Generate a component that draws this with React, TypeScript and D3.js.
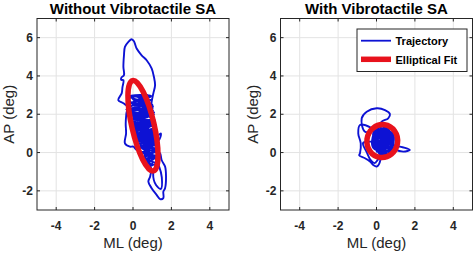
import React from 'react';
import * as d3 from 'd3';

// ---- data ----
const xTicks = [-4, -2, 0, 2, 4];
const yTicks = [-2, 0, 2, 4, 6];
const xDomain: [number, number] = [-5, 5];
const yDomain: [number, number] = [-3, 7];
const titles = ['Without Vibrotactile SA', 'With Vibrotactile SA'];
const xLabel = 'ML (deg)';
const yLabel = 'AP (deg)';
const legendLabels = ['Trajectory', 'Elliptical Fit'];

// trajectory without SA (ML, AP) in degrees
const trajWithout: [number, number][] = [
  [0.1, 2.95], [0.9, 2.9], [0.2, 2.7], [1.0, 2.75], [-0.2, 2.6], [0.6, 2.45], [-0.1, 2.3], [1.05, 2.2],
  [0.3, 2.05], [-0.3, 1.95], [0.8, 1.85], [0.1, 1.7], [1.1, 1.6], [0.0, 1.45], [0.9, 1.35], [0.2, 1.2],
  [1.15, 1.05], [0.1, 0.95], [0.7, 0.8], [1.2, 0.65], [0.3, 0.5], [1.0, 0.35], [0.5, 0.2], [1.3, 0.05],
  [0.6, -0.1], [1.1, -0.3], [0.7, -0.5], [0.9, -0.1], [0.4, 0.3], [1.2, 0.4], [0.2, 0.7], [0.8, 1.0],
  [-0.1, 1.25], [0.6, 1.5], [1.0, 1.8], [-0.2, 2.1], [0.5, 2.3], [0.9, 2.55], [0.0, 2.85], [0.5, 3.0],
  [0.4, 2.6], [0.8, 2.15], [0.0, 1.9], [0.4, 1.6], [1.05, 1.3], [0.3, 1.0], [0.9, 0.7], [0.4, 0.4],
  [1.1, 0.15], [0.8, -0.4],
  [0.95, -0.85], [0.89, -1.26], [0.8, -1.52], [0.97, -1.86], [1.23, -2.21], [1.41, -2.43], [1.58, -2.38],
  [1.58, -2.04], [1.67, -1.86], [1.72, -1.26], [1.67, -0.73], [1.49, -0.39], [1.41, -0.04],
  [1.2, -0.6], [1.05, -1.1], [1.2, -1.7], [1.45, -1.9], [1.5, -1.3], [1.35, -0.7], [1.1, -0.2],
  [0.5, 0.3], [1.2, 0.8], [1.45, 1.0], [1.3, 0.6], [0.1, 1.1], [0.9, 1.4], [-0.2, 1.7], [0.7, 2.0],
  [0.2, 2.4], [1.0, 2.5], [0.92, 1.96],
  [0.97, 2.65], [1.06, 3.09], [1.15, 3.52], [1.09, 3.95], [0.97, 4.39], [0.71, 4.82], [0.45, 5.08],
  [0.19, 5.43], [0.05, 5.81], [-0.07, 5.92], [-0.24, 5.78], [-0.42, 5.52], [-0.47, 5.08], [-0.5, 4.47],
  [-0.47, 4.04], [-0.6, 3.92], [-0.62, 3.8], [-0.5, 3.78], [-0.55, 3.4], [-0.59, 3.09], [-0.77, 2.74],
  [-0.5, 2.57], [-0.3, 2.4], [-0.35, 2.0], [-0.38, 1.5], [-0.36, 1.0], [-0.42, 0.48], [-0.16, 0.31],
  [0.02, 0.31], [0.19, 0.14], [0.7, 0.0], [0.3, 0.6], [1.0, 0.9], [0.0, 1.35], [0.75, 1.65],
  [-0.1, 2.0], [0.55, 2.75], [0.2, 2.95], [0.85, 2.4], [0.1, 1.55], [0.95, 1.1], [0.45, 0.75],
  [1.25, 0.25], [0.6, -0.3], [1.0, -0.6], [0.55, 0.5], [0.05, 1.1], [0.6, 1.9], [0.3, 2.2],
  [-0.25, 2.9], [0.95, 2.95], [-0.3, 2.5], [1.05, 2.4], [-0.25, 2.15], [1.1, 2.0], [-0.2, 1.75],
  [1.15, 1.7], [-0.15, 1.5], [1.2, 1.45], [-0.1, 1.2], [1.25, 1.15], [0.0, 0.9], [1.3, 0.85], [0.1, 0.6],
  [1.35, 0.5], [0.25, 0.3], [1.35, 0.2], [0.4, 0.0], [1.3, -0.2], [0.55, -0.35], [1.2, -0.55],
  [0.75, -0.7], [0.85, -0.25], [0.3, 0.15], [0.95, 0.55], [0.05, 0.8], [0.65, 1.2], [-0.15, 1.55],
  [0.45, 1.8], [1.1, 2.1], [0.1, 2.35], [0.7, 2.7], [-0.1, 2.95], [0.3, 2.5], [1.0, 2.05], [0.2, 1.85],
  [0.85, 1.55], [0.35, 1.3], [1.1, 0.95], [0.5, 0.85], [1.15, 0.45], [0.6, 0.1], [1.0, -0.15],
  [0.45, 0.55], [0.2, 1.45], [0.55, 2.05], [0.15, 2.6], [0.75, 3.0], [0.65, 2.25], [0.25, 1.75],
  [0.8, 1.25], [0.35, 0.85], [0.85, 0.25], [0.65, -0.55],
  [0.4, 2.9], [-0.3, 2.75], [0.35, 2.35], [-0.35, 2.25], [0.45, 2.6], [0.95, 2.3], [0.25, 1.95],
  [0.7, 1.45], [0.15, 1.0], [0.75, 0.55], [0.5, 1.1], [0.95, 1.75], [0.4, 2.15], [0.05, 2.7],
];

// trajectory with SA (ML, AP) in degrees
const trajWith: [number, number][] = [
  [0.3, 1.1], [-0.1, 0.6], [0.6, 0.2], [0.8, 0.9], [0.0, 1.2], [-0.2, 0.3], [0.5, 0.0], [0.9, 0.5],
  [0.4, 1.2], [-0.15, 0.9], [0.2, 0.1], [0.8, 0.2], [0.7, 1.1], [0.0, 0.9], [0.1, 0.2], [0.85, 0.7],
  [0.3, 1.25], [0.1, 1.2],
  [-0.6, 1.09], [-0.77, 1.79], [-0.51, 2.13], [0.01, 2.31], [0.44, 2.22], [0.7, 2.01], [0.61, 1.79],
  [0.27, 1.61], [0.1, 1.3],
  [-0.2, 0.5], [0.4, -0.05], [0.75, 0.4], [0.2, 0.8], [0.6, 1.0], [-0.05, 0.35], [0.55, 0.55],
  [-0.3, 1.3], [-0.86, 1.44], [-0.95, 1.0], [-0.82, 0.48], [-0.86, -0.04], [-0.9, -0.15], [-0.6, -0.3],
  [-0.34, -0.47], [-0.17, -0.65], [0.01, -0.73], [0.2, -0.4],
  [0.1, 1.0], [0.8, 0.8], [0.35, 0.15], [-0.1, 0.75], [0.6, 1.2], [0.9, 0.4],
  [1.22, 0.31], [1.57, 0.22], [1.74, 0.14], [1.4, 0.05], [1.0, 0.15],
  [0.3, 0.9], [-0.2, 0.6], [-0.7, 0.5], [-0.5, 0.0], [-0.3, -0.4], [-0.1, -0.55], [0.25, -0.1],
  [0.7, 0.6], [0.15, 1.1], [0.5, 0.35], [0.0, 0.05], [0.65, 0.85], [0.3, 0.5],
  [0.0, 0.5], [0.7, 0.05], [0.85, 1.0], [-0.15, 1.05], [0.25, -0.15], [0.9, 0.6], [0.45, 1.3],
  [-0.2, 0.7], [0.55, -0.1], [0.8, 0.35], [0.05, 1.15], [0.65, 1.25], [-0.1, 0.2], [0.5, 0.7],
  [0.2, 1.3], [0.75, 0.75], [0.1, 0.35], [0.45, 0.15], [-0.05, 0.95], [0.7, 1.05], [0.35, 0.4],
  [0.0, 0.7], [0.6, 0.45], [0.25, 1.0], [0.85, 0.15], [0.15, 0.55],
  [0.4, 0.8], [0.1, 0.05], [0.75, 0.95], [-0.1, 0.45], [0.55, 1.15], [0.35, 0.0], [0.2, 0.65],
  [0.65, 0.3], [0.05, 0.85], [0.45, 0.55], [0.3, 1.2], [0.8, 0.55], [0.15, 0.25], [0.5, 0.95],
];

// elliptical fits: [centre ML, centre AP, semi-axis ML, semi-axis AP, rotation deg (ccw)]
const ellipseWithout = [0.52, 1.4, 0.58, 2.42, 13];
const ellipseWith = [0.3, 0.6, 0.8, 0.86, -8];

// ---- layout ----
const W = 473;
const H = 254;
const plotTop = 18.5;
const plotBottom = 210;
const plotW = 192;
const panelLefts = [37, 280.5];
const FONT = "'Liberation Sans', Arial, Helvetica, sans-serif";
const BLUE = '#0d12d4';
const RED = '#e8121c';
const AXIS = '#262626';
const GRID = '#e3e3e3';

type PanelProps = {
  left: number;
  data: [number, number][];
  ell: number[];
  title: string;
  legend: boolean;
};

function Panel({ left, data, ell, title, legend }: PanelProps) {
  const x = d3.scaleLinear().domain(xDomain).range([left, left + plotW]);
  const y = d3.scaleLinear().domain(yDomain).range([plotBottom, plotTop]);
  const line = d3
    .line<[number, number]>()
    .x((d) => x(d[0]))
    .y((d) => y(d[1]))
    .curve(d3.curveCatmullRom.alpha(0.5));
  const kx = Math.abs(x(1) - x(0));
  const ky = Math.abs(y(1) - y(0));
  const [ecx, ecy, erx, ery, eang] = ell;
  const right = left + plotW;
  const tickLen = 3;
  const midX = left + plotW / 2;
  const midY = (plotTop + plotBottom) / 2;
  return (
    <g>
      <rect x={left} y={plotTop} width={plotW} height={plotBottom - plotTop} fill="#fff" />
      {xTicks.map((t) => (
        <line key={'gx' + t} x1={x(t)} x2={x(t)} y1={plotTop} y2={plotBottom} stroke={GRID} strokeWidth={1} />
      ))}
      {yTicks.map((t) => (
        <line key={'gy' + t} x1={left} x2={right} y1={y(t)} y2={y(t)} stroke={GRID} strokeWidth={1} />
      ))}
      <path d={line(data) || ''} fill="none" stroke={BLUE} strokeWidth={1.9} strokeLinejoin="round" />
      <ellipse
        cx={x(ecx)}
        cy={y(ecy)}
        rx={erx * kx}
        ry={ery * ky}
        transform={`rotate(${-eang} ${x(ecx)} ${y(ecy)})`}
        fill="none"
        stroke={RED}
        strokeWidth={5.5}
      />
      <rect x={left} y={plotTop} width={plotW} height={plotBottom - plotTop} fill="none" stroke={AXIS} strokeWidth={1} />
      {xTicks.map((t) => (
        <g key={'tx' + t}>
          <line x1={x(t)} x2={x(t)} y1={plotBottom} y2={plotBottom - tickLen} stroke={AXIS} />
          <line x1={x(t)} x2={x(t)} y1={plotTop} y2={plotTop + tickLen} stroke={AXIS} />
          <text x={x(t)} y={plotBottom + 20} textAnchor="middle" fontFamily={FONT} fontWeight="bold" fontSize={12} fill={AXIS}>
            {String(t)}
          </text>
        </g>
      ))}
      {yTicks.map((t) => (
        <g key={'ty' + t}>
          <line x1={left} x2={left + tickLen} y1={y(t)} y2={y(t)} stroke={AXIS} />
          <line x1={right} x2={right - tickLen} y1={y(t)} y2={y(t)} stroke={AXIS} />
          <text x={left - 4} y={y(t) + 4} textAnchor="end" fontFamily={FONT} fontWeight="bold" fontSize={12} fill={AXIS}>
            {String(t)}
          </text>
        </g>
      ))}
      <text x={midX} y={14} textAnchor="middle" fontFamily={FONT} fontWeight="bold" fontSize={15} fill="#000">
        {title}
      </text>
      <text x={midX} y={248} textAnchor="middle" fontFamily={FONT} fontSize={15} fill={AXIS}>
        {xLabel}
      </text>
      <text
        transform={`translate(${left - 23},${midY}) rotate(-90)`}
        textAnchor="middle"
        fontFamily={FONT}
        fontSize={15}
        fill={AXIS}
      >
        {yLabel}
      </text>
      {legend && (
        <g>
          <rect x={357} y={29} width={110} height={42.5} fill="#fff" stroke={AXIS} strokeWidth={1} />
          <line x1={361} x2={391} y1={40.7} y2={40.7} stroke={BLUE} strokeWidth={1.8} />
          <line x1={361} x2={391} y1={59.3} y2={59.3} stroke={RED} strokeWidth={5.5} />
          <text x={395.5} y={45.3} fontFamily={FONT} fontWeight="bold" fontSize={11} fill="#000">
            {legendLabels[0]}
          </text>
          <text x={395.5} y={64} fontFamily={FONT} fontWeight="bold" fontSize={11} fill="#000">
            {legendLabels[1]}
          </text>
        </g>
      )}
    </g>
  );
}

export default function App() {
  return (
    <svg
      width={W}
      height={H}
      viewBox={`0 0 ${W} ${H}`}
      style={{ position: 'absolute', left: 0, top: 0, display: 'block', background: '#fff' }}
    >
      <rect x={0} y={0} width={W} height={H} fill="#fff" />
      <Panel left={panelLefts[0]} data={trajWithout} ell={ellipseWithout} title={titles[0]} legend={false} />
      <Panel left={panelLefts[1]} data={trajWith} ell={ellipseWith} title={titles[1]} legend={true} />
    </svg>
  );
}
